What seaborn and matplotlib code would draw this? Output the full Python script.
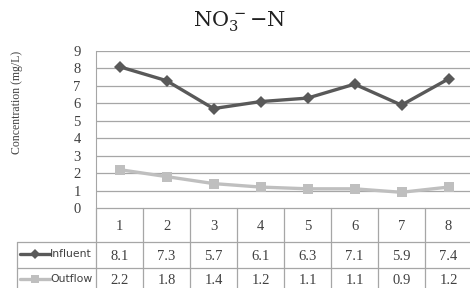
import matplotlib
matplotlib.use("Agg")
import matplotlib.pyplot as plt
import seaborn as sns
import pandas as pd

# data
samples = [1, 2, 3, 4, 5, 6, 7, 8]
influent = [8.1, 7.3, 5.7, 6.1, 6.3, 7.1, 5.9, 7.4]
outflow = [2.2, 1.8, 1.4, 1.2, 1.1, 1.1, 0.9, 1.2]
series_names = ["Influent", "Outflow"]
y_ticks = [0, 1, 2, 3, 4, 5, 6, 7, 8, 9]

colors = {"Influent": "#595959", "Outflow": "#bfbfbf"}
markers = {"Influent": "D", "Outflow": "s"}
grid_c = "#a6a6a6"
txt_c = "#404040"
serif = ["Liberation Serif", "DejaVu Serif"]

sns.set_style("white")
plt.rcParams["font.family"] = ["DejaVu Sans"]

df = pd.DataFrame({
    "sample": samples * 2,
    "conc": influent + outflow,
    "series": [series_names[0]] * len(samples) + [series_names[1]] * len(samples),
})

W, H = 470, 288
fig = plt.figure(figsize=(W / 100, H / 100), dpi=100)

def px_axes(left, top, right, bottom):
    return fig.add_axes([left / W, 1 - bottom / H, (right - left) / W, (bottom - top) / H])

ax = px_axes(96, 51, 472, 208)
sns.lineplot(data=df, x="sample", y="conc", hue="series", style="series",
             palette=colors, markers=markers, dashes=False, linewidth=2.4,
             markersize=6.5, markeredgewidth=0, ax=ax, legend=False)
ax.set_xlim(0.5, 8.5)
ax.set_ylim(0, 9)
ax.set_yticks(y_ticks)
ax.set_yticklabels([str(t) for t in y_ticks], fontfamily=serif, fontsize=10.5, color=txt_c)
ax.tick_params(axis="y", length=0, pad=11)
ax.set_xticks([])
ax.set_xlabel("")
ax.set_ylabel("Concentration (mg/L)", fontfamily=serif, fontsize=8.5, color=txt_c)
ax.yaxis.set_label_coords((23 - 96) / 376, (208 - 102) / 157)
for t in y_ticks:
    ax.axhline(t, color=grid_c, lw=0.9, zorder=0)
for s in ax.spines.values():
    s.set_visible(False)
ax.spines["left"].set_visible(True)
ax.spines["left"].set_color(grid_c)

# data table under the plot (x in category units, y in pixels)
tab = px_axes(96, 208, 472, 294)
tab.set_xlim(0.5, 8.5)
tab.set_ylim(294, 208)
tab.axis("off")

def px_x(p):
    return 0.5 + (p - 96) / 47.0

leg_left = px_x(17)
tab.plot([0.5, 8.5], [208, 208], color=grid_c, lw=0.9)
for y in [242, 268, 294]:
    tab.plot([leg_left, 8.5], [y, y], color=grid_c, lw=0.9, clip_on=False)
for i in range(9):
    tab.plot([0.5 + i, 0.5 + i], [208, 294], color=grid_c, lw=0.9, clip_on=False)
tab.plot([leg_left, leg_left], [242, 294], color=grid_c, lw=0.9, clip_on=False)

for s, a, b in zip(samples, influent, outflow):
    tab.text(s, 226, str(s), ha="center", va="center", fontfamily=serif, fontsize=10.5, color=txt_c)
    tab.text(s, 256, f"{a:.1f}", ha="center", va="center", fontfamily=serif, fontsize=10.5, color=txt_c)
    tab.text(s, 281, f"{b:.1f}", ha="center", va="center", fontfamily=serif, fontsize=10.5, color=txt_c)

for name, yrow in zip(series_names, [254, 279]):
    tab.plot([px_x(20), px_x(50)], [yrow, yrow], color=colors[name], lw=2.4, clip_on=False)
    tab.plot([px_x(35)], [yrow], marker=markers[name], color=colors[name], ms=5.5, mew=0, clip_on=False)
    tab.text(px_x(50), yrow, name, ha="left", va="center", fontsize=7.8, color=txt_c, clip_on=False)

fig.text(240 / W, 1 - 22 / H, r"$\mathrm{NO_3^{\,-}{-}N}$", ha="center", va="center",
         fontsize=15, color="#202020", math_fontfamily="dejavuserif")

fig.savefig("out.png", dpi=100)
